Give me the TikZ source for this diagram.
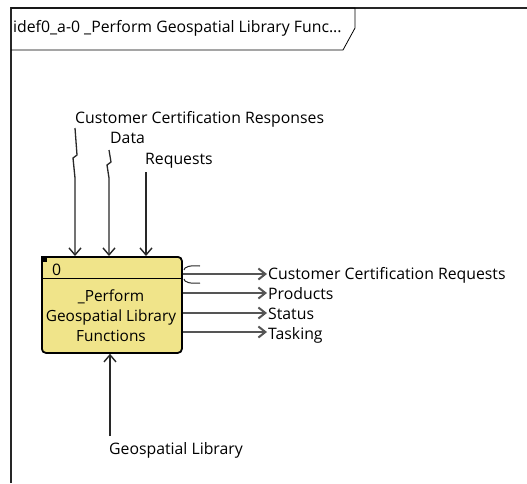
\documentclass[tikz,border=0pt]{standalone}
\usepackage{fontspec}
\setmainfont{Open Sans}
\usetikzlibrary{arrows.meta}
\definecolor{boxfill}{RGB}{240,228,138}
\definecolor{inwire}{RGB}{40,40,40}
\definecolor{outwire}{RGB}{85,85,85}
\tikzset{
  lbl/.style={inner sep=0pt, anchor=base west, font=\fontsize{15.8}{20}\selectfont},
  inarrow/.style={draw=inwire, line width=1.3pt, -{Straight Barb[length=7pt,width=12pt,line width=1.4pt]}},
  outarrow/.style={draw=outwire, line width=1.8pt, -{Straight Barb[length=7pt,width=11pt,line width=2pt]}},
  funcbox/.style={draw=black, line width=1.8pt, rounded corners=4pt, fill=boxfill,
    minimum width=140pt, minimum height=96pt, inner sep=0pt, anchor=north west}
}
\begin{document}
\begin{tikzpicture}[x=1pt,y=-1pt]
\useasboundingbox (0,0) rectangle (527,483);
\fill[white] (0,0) rectangle (527,483);

% diagram frame and title tab
\draw[line width=1.8pt, black!85] (11,483) -- (11,8) -- (527,8);
\draw[line width=0.8pt] (11,8) -- (355,8) -- (355,28) -- (343,50) -- (11,50);
\node[lbl] (title) at (13,32) {idef0\_a-0 \_Perform Geospatial Library Func...};

% activity box
\node[funcbox] (fn) at (41,256) {};
\draw[line width=1pt] (fn.west |- 0,278) -- (fn.east |- 0,278);
\fill (41,256) rectangle (47,262);
\node[lbl] (num) at (52,275) {0};
\node[lbl, anchor=base, font=\fontsize{15.4}{20}\selectfont] (l1) at (111,301) {\_Perform};
\node[lbl, anchor=base, font=\fontsize{15.4}{20}\selectfont] (l2) at (111,321) {Geospatial Library};
\node[lbl, anchor=base, font=\fontsize{15.4}{20}\selectfont] (l3) at (111,341) {Functions};

% inputs
\coordinate (i1) at (75,128);
\coordinate (i2) at (109,150);
\coordinate (i3) at (146,172);
\draw[inarrow] (i1) -- ++(2,27) -- ++(-4,3) -- ++(2,20) -- (i1 |- fn.north);
\draw[inarrow] (i2) -- ++(2,12) -- ++(-4,3) -- ++(2,13) -- (i2 |- fn.north);
\draw[inarrow] (i3) -- (i3 |- fn.north);
\node[lbl] (t1) at (75,123) {Customer Certification Responses};
\node[lbl] (t2) at (110,143) {Data};
\node[lbl] (t3) at (145,164) {Requests};

% outputs
\coordinate (o1) at (267,274);
\coordinate (o2) at (267,293);
\coordinate (o3) at (267,313);
\coordinate (o4) at (267,332);
\draw[outarrow] (fn.east |- o1) -- (o1);
\draw[outarrow] (fn.east |- o2) -- (o2);
\draw[outarrow] (fn.east |- o3) -- (o3);
\draw[outarrow] (fn.east |- o4) -- (o4);
% tunnel mark on the first output
\draw[line width=1pt, inwire] (200,266) .. controls (190,265) and (184,267) .. (184,270);
\draw[line width=1pt, inwire] (184,279) .. controls (184,282) and (190,284) .. (200,283);
\node[lbl] (u1) at (268,279) {Customer Certification Requests};
\node[lbl] (u2) at (268,299) {Products};
\node[lbl] (u3) at (268,319) {Status};
\node[lbl] (u4) at (268,339) {Tasking};

% mechanism
\coordinate (m1) at (110,436);
\draw[inarrow] (m1) -- (m1 |- fn.south);
\node[lbl] (mt) at (109,454) {Geospatial Library};
\end{tikzpicture}
\end{document}
